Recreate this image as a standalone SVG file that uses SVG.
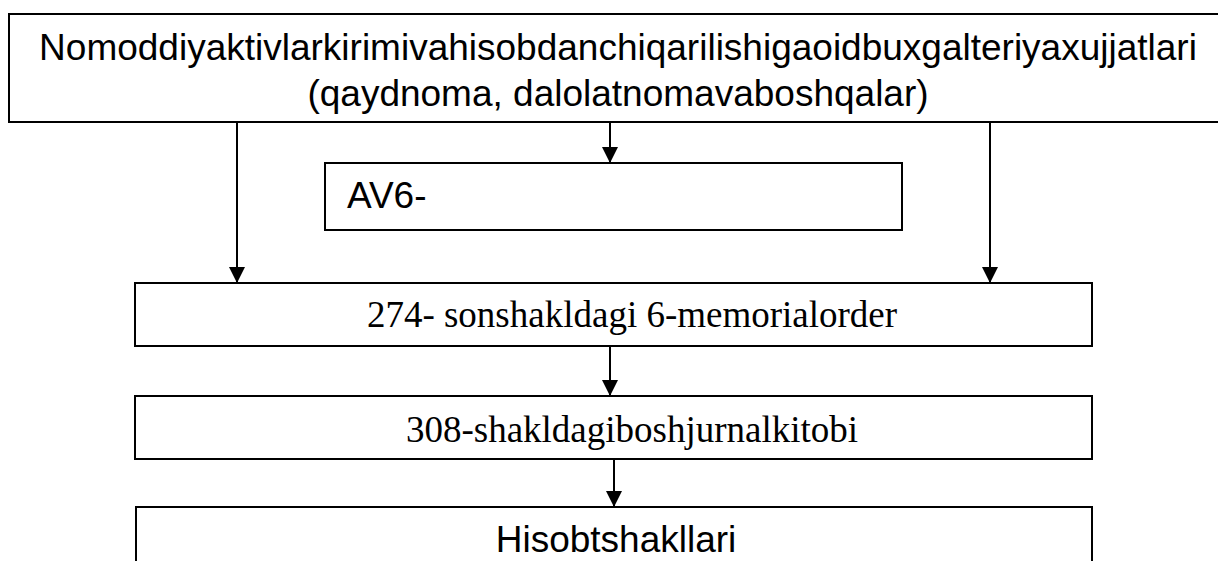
<svg xmlns="http://www.w3.org/2000/svg" width="1218" height="561" viewBox="0 0 1218 561">
  <style>
    .box { fill: #ffffff; stroke: #000000; stroke-width: 2; }
    .edge { stroke: #000000; stroke-width: 2; fill: none; }
    .sans { font-family: "Liberation Sans", Arial, sans-serif; fill: #000000; font-size: 37px; }
    .serif { font-family: "Liberation Serif", "Times New Roman", serif; fill: #000000; font-size: 37px; }
  </style>
  <defs>
    <marker id="arrow" viewBox="0 0 16 16" refX="16" refY="8" markerWidth="16" markerHeight="16" markerUnits="userSpaceOnUse" orient="auto">
      <path d="M0,0 L16,8 L0,16 Z" fill="#000000"/>
    </marker>
  </defs>
  <rect width="1218" height="561" fill="#ffffff"/>

  <!-- source documents -->
  <g id="node-documents">
    <rect class="box" x="9" y="14" width="1220" height="108"/>
    <text class="sans" x="618" y="60" text-anchor="middle">Nomoddiyaktivlarkirimivahisobdanchiqarilishigaoidbuxgalteriyaxujjatlari</text>
    <text class="sans" x="618" y="106" text-anchor="middle">(qaydnoma, dalolatnomavaboshqalar)</text>
  </g>

  <g id="node-av6">
    <rect class="box" x="325" y="163" width="577" height="67"/>
    <text class="sans" x="347" y="208">AV6-</text>
  </g>

  <g id="node-order">
    <rect class="box" x="135" y="283" width="957" height="63"/>
    <text class="serif" x="632" y="327" text-anchor="middle">274- sonshakldagi 6-memorialorder</text>
  </g>

  <g id="node-journal">
    <rect class="box" x="135" y="396" width="957" height="63"/>
    <text class="serif" x="632" y="442" text-anchor="middle">308-shakldagiboshjurnalkitobi</text>
  </g>

  <g id="node-reports">
    <rect class="box" x="136" y="507" width="956" height="70"/>
    <text class="sans" x="616" y="552" text-anchor="middle">Hisobtshakllari</text>
  </g>

  <!-- connectors -->
  <g id="connectors">
    <line class="edge" x1="237" y1="122" x2="237" y2="283" marker-end="url(#arrow)"/>
    <line class="edge" x1="610" y1="122" x2="610" y2="163" marker-end="url(#arrow)"/>
    <line class="edge" x1="990" y1="122" x2="990" y2="283" marker-end="url(#arrow)"/>
    <line class="edge" x1="610" y1="346" x2="610" y2="396" marker-end="url(#arrow)"/>
    <line class="edge" x1="614" y1="459" x2="614" y2="507" marker-end="url(#arrow)"/>
  </g>
</svg>
